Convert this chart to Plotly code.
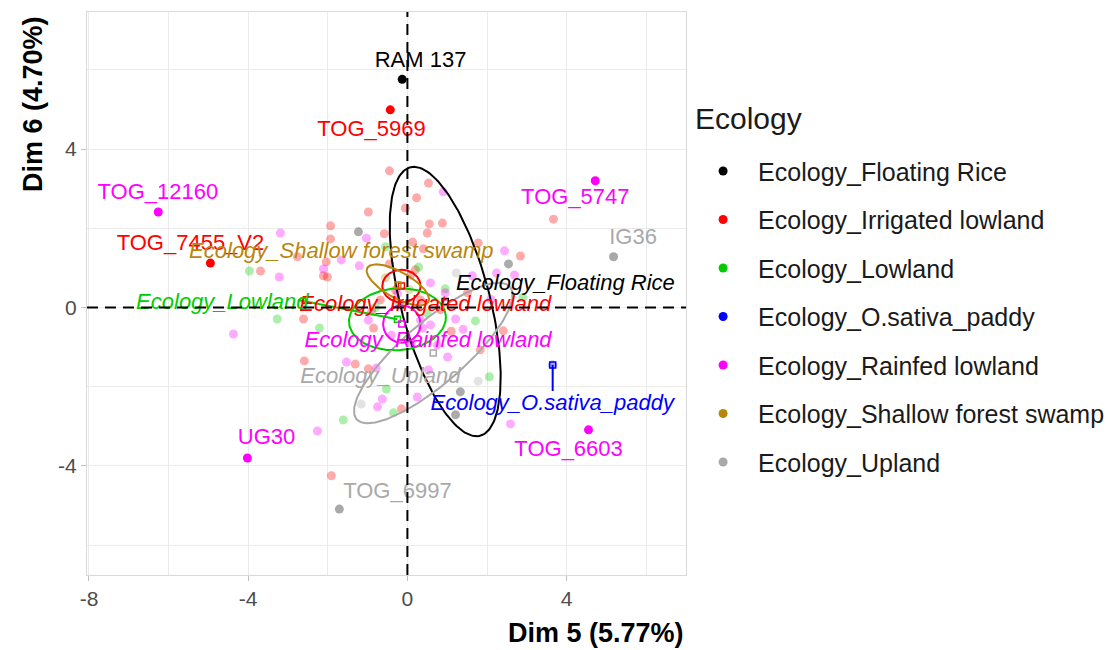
import numpy as np
import plotly.graph_objects as go

# ---------------- data ----------------
groups = ["Ecology_Floating Rice", "Ecology_Irrigated lowland", "Ecology_Lowland",
          "Ecology_O.sativa_paddy", "Ecology_Rainfed lowland",
          "Ecology_Shallow forest swamp", "Ecology_Upland"]
colors = ["#000000", "#FF0000", "#00CD00", "#0000FF", "#FF00FF", "#B8860B", "#A9A9A9"]

# individuals (faded points) per group
fr_x = [-1.23, 2.54, 1.33, 1.21]
fr_y = [1.91, 1.10, -2.13, -2.71]
irr_x = [-0.45, -0.98, -0.05, -1.93, -0.58, -2.04, -2.11, -3.69, -2.76, 0.53, 0.23, 0.55, 0.88,
         0.50, 0.13, 0.40, 1.78, 2.84, 3.67, 2.41, 1.83, -2.61, -2.59, -1.31, -0.98, -0.15,
         -1.91, -2.01, 1.51, -0.85, -1.93, -0.30, 0.08, 0.33, -0.68, 0.83, -0.45, 0.20, -0.90, 1.10]
irr_y = [3.45, 2.41, 2.51, 2.06, 1.86, 1.15, 0.80, 0.92, 1.28, 3.14, 2.77, 2.11, 2.13,
         1.88, 1.65, 1.48, 1.63, 1.30, 2.23, -0.59, -1.07, -0.29, -1.35, -1.43, -1.55, -2.56,
         -4.25, 0.77, 0.37, -0.52, 1.73, 0.44, 0.82, 0.19, 0.19, -0.06, 1.10, 0.95, -0.10, -0.60]
low_x = [-3.97, -0.55, 0.28, 0.95, 1.71, 2.06, -3.27, -2.21, -0.53, -0.35, -1.61, 2.90, -0.20, 0.50, -0.80]
low_y = [0.92, 1.53, 1.02, 0.47, -0.34, -1.75, -0.29, -0.52, -2.06, -2.66, -2.84, 0.25, 0.10, -0.15, 0.00]
pad_x = [3.65]
pad_y = [-1.45]
rain_x = [-3.19, -1.03, -1.66, -2.11, -1.21, -3.22, 0.90, 2.44, 2.24, 2.69, 1.63, 0.58, 1.21, 0.58,
          0.38, 1.01, 0.53, 0.25, 2.59, -4.37, -1.53, -0.78, -0.63, -0.75, -2.26, -0.98, 0.95,
          0.33, 2.10, -0.40, 0.10, 0.75, -0.25, 1.40]
rain_y = [1.88, 1.75, 1.20, 0.97, 1.05, 0.77, 2.92, 1.43, 0.87, 0.82, 0.80, 0.62, -0.29, -0.44,
          -0.52, -1.25, -1.58, -2.26, -2.94, -0.67, -1.38, -1.53, -2.31, -2.51, -3.12, -0.32, 0.37,
          -0.32, 0.20, -0.70, -0.90, -0.95, 0.35, -0.55]
sw_x = [-0.55, 0.05]
sw_y = [0.75, 0.45]
up_x = [1.23, 1.78, -1.16]
up_y = [0.87, -1.86, -2.44]

faded_x = [fr_x, irr_x, low_x, pad_x, rain_x, sw_x, up_x]
faded_y = [fr_y, irr_y, low_y, pad_y, rain_y, sw_y, up_y]

# highlighted (labelled) individuals
ind_names = ["RAM 137", "TOG_5969", "TOG_12160", "TOG_7455_V2", "TOG_5747", "IG36", "UG30", "TOG_6997", "TOG_6603"]
ind_x = [-0.13, -0.43, -6.26, -4.95, 4.72, 5.18, -4.02, -1.71, 4.55]
ind_y = [5.76, 4.99, 2.41, 1.12, 3.20, 1.28, -3.80, -5.09, -3.09]
ind_group = [0, 1, 4, 1, 4, 6, 4, 6, 4]
ind_lab_x = [0.33, -0.90, -6.27, -5.45, 4.22, 5.67, -3.54, -0.25, 4.05]
ind_lab_y = [6.20, 4.48, 2.89, 1.58, 2.74, 1.73, -3.32, -4.66, -3.60]

# group means (supplementary categories) and their label positions
mean_x = [0.95, -0.15, -0.25, 3.65, -0.14, -0.24, 0.65]
mean_y = [0.15, 0.54, -0.30, -1.45, -0.42, 0.57, -1.15]
glab_x = [3.97, 0.45, -4.65, 3.64, 0.52, -1.66, -0.68]
glab_y = [0.57, 0.06, 0.11, -2.46, -0.87, 1.38, -1.78]

# concentration ellipses: semi-axes and rotation (deg); None = no ellipse
ell_a = [3.50, 0.48, 1.22, None, 0.47, 0.88, 2.55]
ell_b = [1.12, 0.41, 0.78, None, 0.47, 0.33, 0.78]
ell_ang = [-75.5, 0.0, 4.0, None, 0.0, -29.3, 41.0]

x_range = [-8.05, 7.0]
y_range = [-6.755, 7.46]
x_ticks = [-8, -4, 0, 4]
y_ticks = [-4, 0, 4]

# ---------------- figure ----------------
fig = go.Figure()

for g, c in enumerate(colors):
    fig.add_trace(go.Scatter(x=faded_x[g], y=faded_y[g], mode="markers",
                             marker=dict(color=c, size=9, opacity=0.33),
                             showlegend=False, hoverinfo="skip"))

t = np.linspace(0, 2 * np.pi, 200)
for g, c in enumerate(colors):
    if ell_a[g] is None:
        continue
    th = np.deg2rad(ell_ang[g])
    ex = mean_x[g] + ell_a[g] * np.cos(t) * np.cos(th) - ell_b[g] * np.sin(t) * np.sin(th)
    ey = mean_y[g] + ell_a[g] * np.cos(t) * np.sin(th) + ell_b[g] * np.sin(t) * np.cos(th)
    fig.add_trace(go.Scatter(x=ex, y=ey, mode="lines", line=dict(color=c, width=2),
                             showlegend=False, hoverinfo="skip"))

# repel segments
fig.add_trace(go.Scatter(x=[mean_x[3], mean_x[3]], y=[mean_y[3], glab_y[3] + 0.35], mode="lines",
                         line=dict(color=colors[3], width=2), showlegend=False, hoverinfo="skip"))
fig.add_trace(go.Scatter(x=[glab_x[2] + 1.9, mean_x[2]], y=[glab_y[2] + 0.08, mean_y[2]], mode="lines",
                         line=dict(color=colors[2], width=2), showlegend=False, hoverinfo="skip"))

# mean markers
fig.add_trace(go.Scatter(x=mean_x, y=mean_y, mode="markers",
                         marker=dict(color=colors, size=6, symbol="square-open", line=dict(width=1.5)),
                         showlegend=False, hoverinfo="skip"))

# highlighted individuals
fig.add_trace(go.Scatter(x=ind_x, y=ind_y, mode="markers",
                         marker=dict(color=[colors[g] for g in ind_group], size=9),
                         showlegend=False, hoverinfo="skip"))

# labels of individuals
fig.add_trace(go.Scatter(x=ind_lab_x, y=ind_lab_y, mode="text", text=ind_names,
                         textposition="middle center",
                         textfont=dict(size=22, color=[colors[g] for g in ind_group],
                                       family="Liberation Sans, Arial, sans-serif"),
                         showlegend=False, hoverinfo="skip"))

# labels of categories (italic)
fig.add_trace(go.Scatter(x=glab_x, y=glab_y, mode="text", text=groups,
                         textposition="middle center",
                         textfont=dict(size=22, color=colors, style="italic",
                                       family="Liberation Sans, Arial, sans-serif"),
                         showlegend=False, hoverinfo="skip"))

# legend entries
for g, c in enumerate(colors):
    fig.add_trace(go.Scatter(x=[None], y=[None], mode="markers", name=groups[g],
                             legendgroup=groups[g],
                             marker=dict(color=c, size=9)))

# dashed reference lines
fig.add_shape(type="line", xref="paper", x0=0, x1=1, yref="y", y0=0, y1=0,
              line=dict(color="black", width=2, dash="11px,7px"), layer="above")
fig.add_shape(type="line", yref="paper", y0=0, y1=1, xref="x", x0=0, x1=0,
              line=dict(color="black", width=2, dash="11px,7px"), layer="above")

axis_common = dict(showgrid=True, gridcolor="#EBEBEB", gridwidth=1, zeroline=False,
                   showline=True, mirror=True, linecolor="#D9D9D9", linewidth=1,
                   ticks="outside", ticklen=5, tickcolor="#BFBFBF", tickwidth=1,
                   tickfont=dict(size=21, color="#4D4D4D", family="Liberation Sans, Arial, sans-serif"),
                   minor=dict(dtick=2, tick0=0, showgrid=True, gridcolor="#EBEBEB", gridwidth=1))

fig.update_layout(
    width=1108, height=650, autosize=False,
    margin=dict(l=87, r=422, t=12, b=75, autoexpand=False),
    plot_bgcolor="white", paper_bgcolor="white",
    font=dict(family="Liberation Sans, Arial, sans-serif"),
    xaxis=dict(range=x_range, tickvals=x_ticks, ticktext=[str(v) for v in x_ticks], **axis_common),
    yaxis=dict(range=y_range, tickvals=y_ticks, ticktext=[str(v) for v in y_ticks], **axis_common),
    legend=dict(x=1.0035, y=0.758, xanchor="left", yanchor="top",
                font=dict(size=25, color="#1a1a1a"),
                itemwidth=60, tracegroupgap=13, bgcolor="rgba(0,0,0,0)"),
    annotations=[
        dict(text="Ecology", xref="paper", yref="paper", x=1.012, y=0.8117,
             xanchor="left", yanchor="middle", showarrow=False,
             font=dict(size=30, color="#1a1a1a")),
        dict(text="<b>Dim 5 (5.77%)</b>", xref="paper", yref="paper", x=1, y=0,
             xanchor="right", yanchor="middle", yshift=-58, showarrow=False,
             font=dict(size=27, color="black")),
        dict(text="<b>Dim 6 (4.70%)</b>", xref="paper", yref="paper", x=0, y=1,
             xanchor="center", yanchor="top", xshift=-54, yshift=-2, textangle=-90,
             showarrow=False, font=dict(size=27, color="black")),
    ],
)

fig.write_html("out.html")
